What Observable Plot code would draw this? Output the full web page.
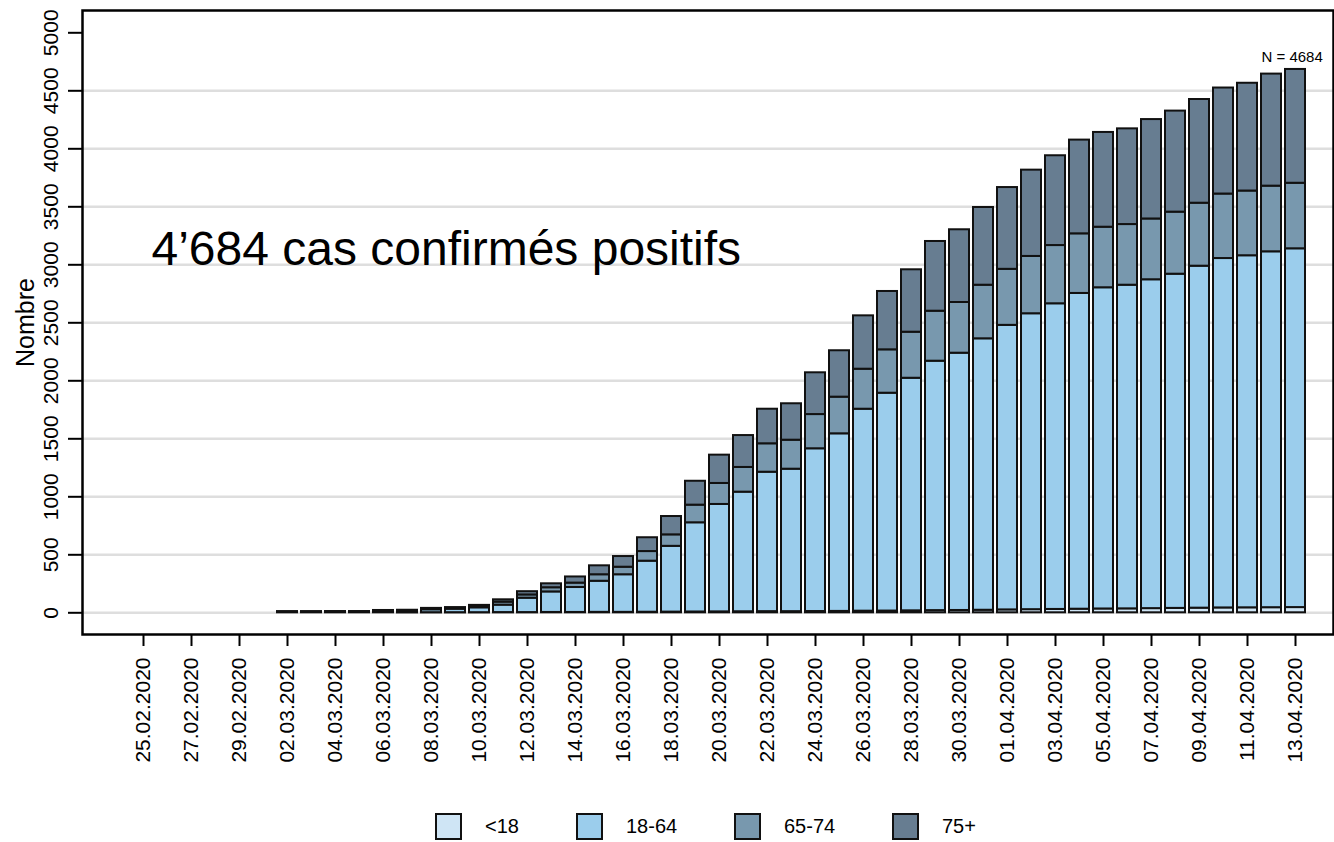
<!DOCTYPE html>
<html><head><meta charset="utf-8">
<script src="https://cdn.jsdelivr.net/npm/d3@7"></script>
<script src="https://cdn.jsdelivr.net/npm/@observablehq/plot@0.6"></script>
<style>
body{margin:0;background:#fff;font-family:"Liberation Sans",Arial,sans-serif;}
#chart svg{display:block;}
#legend{position:relative;width:1334px;height:42px;}
.item{position:absolute;top:13px;height:27px;display:flex;align-items:center;font-size:20px;color:#000;}
.sw{width:27px;height:27px;border:2px solid #111;box-sizing:border-box;margin-right:23px;}
</style></head><body><div id="chart"></div><div id="legend"></div>
<script>
const dates = ["25.02.2020","26.02.2020","27.02.2020","28.02.2020","29.02.2020",
"01.03.2020","02.03.2020","03.03.2020","04.03.2020","05.03.2020","06.03.2020","07.03.2020","08.03.2020","09.03.2020","10.03.2020",
"11.03.2020","12.03.2020","13.03.2020","14.03.2020","15.03.2020","16.03.2020","17.03.2020","18.03.2020","19.03.2020","20.03.2020",
"21.03.2020","22.03.2020","23.03.2020","24.03.2020","25.03.2020","26.03.2020","27.03.2020","28.03.2020","29.03.2020","30.03.2020","31.03.2020",
"01.04.2020","02.04.2020","03.04.2020","04.04.2020","05.04.2020","06.04.2020","07.04.2020","08.04.2020","09.04.2020","10.04.2020",
"11.04.2020","12.04.2020","13.04.2020"];
const tickLabels = ["25.02.2020","27.02.2020","29.02.2020","02.03.2020","04.03.2020","06.03.2020","08.03.2020","10.03.2020",
"12.03.2020","14.03.2020","16.03.2020","18.03.2020","20.03.2020","22.03.2020","24.03.2020","26.03.2020","28.03.2020",
"30.03.2020","01.04.2020","03.04.2020","05.04.2020","07.04.2020","09.04.2020","11.04.2020","13.04.2020"];
const barDates = ["02.03.2020","03.03.2020","04.03.2020","05.03.2020","06.03.2020","07.03.2020","08.03.2020","09.03.2020","10.03.2020",
"11.03.2020","12.03.2020","13.03.2020","14.03.2020","15.03.2020","16.03.2020","17.03.2020","18.03.2020","19.03.2020","20.03.2020",
"21.03.2020","22.03.2020","23.03.2020","24.03.2020","25.03.2020","26.03.2020","27.03.2020","28.03.2020","29.03.2020","30.03.2020","31.03.2020",
"01.04.2020","02.04.2020","03.04.2020","04.04.2020","05.04.2020","06.04.2020","07.04.2020","08.04.2020","09.04.2020","10.04.2020",
"11.04.2020","12.04.2020","13.04.2020"];
const groups = ["<18","18-64","65-74","75+"];
const colors = ["#cfe5f5","#9bcdec","#7898ae","#677d91"];
const u18 = [0,0,0,0,0,1,1,1,1, 2,2,3,3,4,4,5,6,7,8,9,10,10,11,12,14,15,17,19,20,22, 25,27,29,31,33,34,36,38,40,42,43,44,45];
const a18_64 = [6,6,7,7,14,15,25,30,42, 64,124,177,215,268,324,440,567,769,926,1031,1202,1228,1403,1531,1741,1878,2005,2150,2218,2340,
 2453,2551,2635,2722,2769,2790,2835,2881,2948,3012,3035,3068,3093];
const a65_74 = [2,2,2,2,3,3,6,7,10, 26,28,36,38,56,65,83,99,152,181,213,245,250,295,316,345,374,397,431,437,462,
 483,494,502,514,522,523,524,535,543,556,558,566,565];
const a75 = [1,1,1,1,3,3,6,7,11, 20,28,34,53,77,92,119,158,206,244,275,298,314,360,400,460,503,538,601,627,670,
 705,744,774,808,817,825,857,871,894,914,929,966,981];
const yTicks = [0,500,1000,1500,2000,2500,3000,3500,4000,4500,5000];
const gridVals = [0,500,1000,1500,2000,2500,3000,3500,4000,4500];
const totalLabel = "N = 4684";
const totalValue = 4684;
const annotation = "4’684 cas confirmés positifs";

const series = [u18, a18_64, a65_74, a75];
const rows = groups.flatMap((g, k) => barDates.map((d, i) => ({date: d, group: g, value: series[k][i]})));

const W = 1334, H = 800;
const chart = Plot.plot({
  width: W, height: H,
  marginLeft: 82, marginRight: 1, marginTop: 10, marginBottom: H - 634,
  style: {fontFamily: '"Liberation Sans", Arial, sans-serif', fontSize: "21px", color: "#000", background: "#fff"},
  x: {type: "band", domain: dates, range: [125.1, 1313.1], padding: 0.15, axis: null},
  y: {domain: [0, 5000], range: [612.3, 32.3], axis: null},
  color: {domain: groups, range: colors},
  marks: [
    Plot.ruleY(gridVals, {stroke: "#dedede", strokeWidth: 2.5}),
    Plot.barY(rows, {x: "date", y: "value", fill: "group", stroke: "#111", strokeWidth: 2, order: groups}),
    Plot.frame({stroke: "#000", strokeWidth: 2.5}),
    Plot.axisY(yTicks, {anchor: "left", tickRotate: -90, tickSize: 14, tickPadding: 11, fontSize: 21, strokeWidth: 2, tickFormat: d => String(d), label: null}),
    Plot.axisX(tickLabels, {anchor: "bottom", tickRotate: -90, tickSize: 12, tickPadding: 11, fontSize: 21, strokeWidth: 2, label: null}),
    Plot.text(["Nombre"], {frameAnchor: "left", rotate: -90, dx: -49, textAnchor: "middle", lineAnchor: "bottom", fontSize: 25, fill: "#000"}),
    Plot.text([annotation], {x: () => dates[0], y: () => 3000, dx: 8, dy: 0, textAnchor: "start", lineAnchor: "bottom", fontSize: 48, fill: "#000"}),
    Plot.text([totalLabel], {x: () => barDates[barDates.length - 1], y: () => totalValue, dx: -34, dy: -7, textAnchor: "start", lineAnchor: "bottom", fontSize: 15, fill: "#000"})
  ]
});
document.getElementById("chart").appendChild(chart);

const lefts = [435, 576, 734, 892];
const legend = document.getElementById("legend");
groups.forEach((g, i) => {
  const it = document.createElement("div");
  it.className = "item";
  it.style.left = lefts[i] + "px";
  const sw = document.createElement("div");
  sw.className = "sw";
  sw.style.background = colors[i];
  const lb = document.createElement("span");
  lb.textContent = g;
  it.appendChild(sw); it.appendChild(lb);
  legend.appendChild(it);
});
</script></body></html>
